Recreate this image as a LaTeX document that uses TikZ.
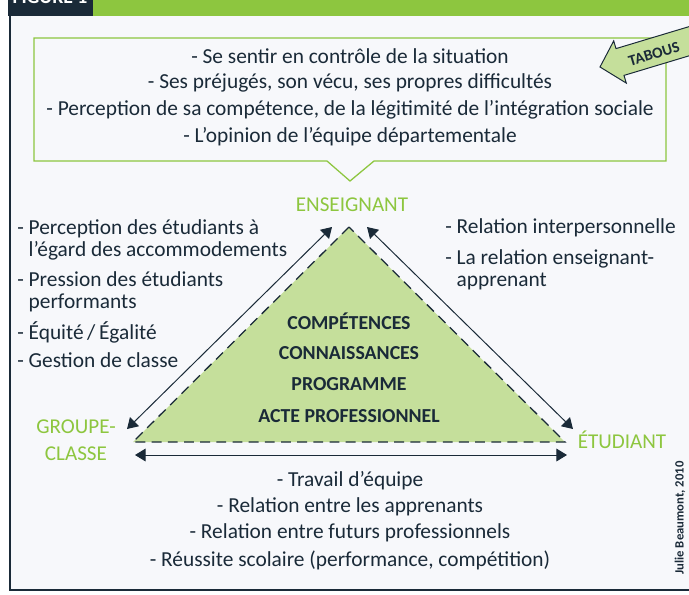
\documentclass[tikz,border=0pt]{standalone}
\usepackage{fontspec}
\setmainfont{Carlito}
\usetikzlibrary{arrows.meta}
\definecolor{navy}{HTML}{1A2A38}
\definecolor{leaf}{HTML}{8DC63F}
\definecolor{pale}{HTML}{C5DF9B}
\definecolor{paper}{HTML}{F7F8FB}
\tikzset{
  txt/.style={text=navy,font=\fontsize{15.2}{16}\selectfont,inner sep=0pt,align=left},
  corner/.style={text=leaf,font=\fontsize{15}{19}\selectfont,align=center,inner sep=0pt},
  core/.style={text=navy,font=\bfseries\fontsize{14.1}{16}\selectfont,inner sep=0pt},
  both/.style={{Triangle[length=7.5pt,width=9pt]}-{Triangle[length=7.5pt,width=9pt]},navy,line width=0.7pt}
}
\begin{document}
\begin{tikzpicture}[x=0.025cm,y=-0.025cm]
  \useasboundingbox (0,0) rectangle (689,594);
  \clip (0,0) rectangle (689,594);
  \fill[paper] (10,16) rectangle (689,590);
  \draw[navy,line width=1.1pt] (10,16) -- (10,590) -- (689,590);
  \fill[navy] (8,0) rectangle (93,16);
  \fill[leaf] (93,0) rectangle (689,16);
  \node[text=white,font=\bfseries\fontsize{14}{16}\selectfont,anchor=base] (fig) at (50,3) {FIGURE 1};

  \draw[leaf,line width=0.9pt,fill=paper] (34,38) -- (666,38) -- (666,161) -- (374,161)
    -- (350,181) -- (327,161) -- (34,161) -- cycle;
  \foreach \y/\t [count=\i] in {56/{- Se sentir en contrôle de la situation},
      83/{- Ses préjugés, son vécu, ses propres difficultés},
      110/{- Perception de sa compétence, de la légitimité de l’intégration sociale},
      137/{- L’opinion de l’équipe départementale}}
    \node[txt] (top\i) at (350,\y) {\t};

  \fill[pale,draw=navy,line width=0.7pt] (613.7,40.9) -- (600,67) -- (626.3,83.1) -- (624,75.4)
    -- (719.7,46.6) -- (711.7,19.8) -- (616,48.6) -- cycle;
  \node[text=navy,font=\bfseries\fontsize{11}{12}\selectfont,rotate=17,inner sep=0pt] (tabous) at (654,54) {TABOUS};

  \coordinate (ens) at (349,227);
  \coordinate (grp) at (133,442);
  \coordinate (etu) at (565,442);
  \fill[pale] (ens) -- (grp) -- (etu) -- cycle;
  \draw[navy,line width=0.9pt,dash pattern=on 7pt off 4.5pt] (ens) -- (grp) -- (etu) -- cycle;

  \coordinate (l1) at (332,227);
  \coordinate (l2) at (127,429);
  \coordinate (r1) at (367,227);
  \coordinate (r2) at (573,429);
  \coordinate (b1) at (135,455);
  \coordinate (b2) at (567,455);
  \draw[both] (l1) -- (l2);
  \draw[both] (r1) -- (r2);
  \draw[both] (b1) -- (b2);

  \node[corner] (enseignant) at (352,205) {ENSEIGNANT};
  \node[corner] (groupe) at (76,440) {GROUPE-\\CLASSE};
  \node[corner] (etudiant) at (622,440) {ÉTUDIANT};

  \node[core] (c1) at (349,321) {COMPÉTENCES};
  \node[core] (c2) at (349,353) {CONNAISSANCES};
  \node[core] (c3) at (349,384) {PROGRAMME};
  \node[core] (c4) at (349,416) {ACTE PROFESSIONNEL};

  \node[txt,anchor=west] (g1) at (17,240) {- Perception des étudiants à\\\phantom{- }l’égard des accommodements};
  \node[txt,anchor=west] (g2) at (17,292) {- Pression des étudiants\\\phantom{- }performants};
  \node[txt,anchor=west] (g3) at (17,332) {- Équité\,/\,Égalité};
  \node[txt,anchor=west] (g4) at (17,360) {- Gestion de classe};

  \node[txt,anchor=west] (e1) at (445,228) {- Relation interpersonnelle};
  \node[txt,anchor=west] (e2) at (445,270) {- La relation enseignant-\\\phantom{- }apprenant};

  \foreach \y/\t [count=\i] in {481/{- Travail d’équipe},
      507/{- Relation entre les apprenants},
      533/{- Relation entre futurs professionnels},
      560/{- Réussite scolaire (performance, compétition)}}
    \node[txt] (bot\i) at (350,\y) {\t};

  \node[text=navy,font=\bfseries\fontsize{9}{10}\selectfont,rotate=90,inner sep=0pt] (credit) at (680,518) {Julie Beaumont, 2010};
\end{tikzpicture}
\end{document}
